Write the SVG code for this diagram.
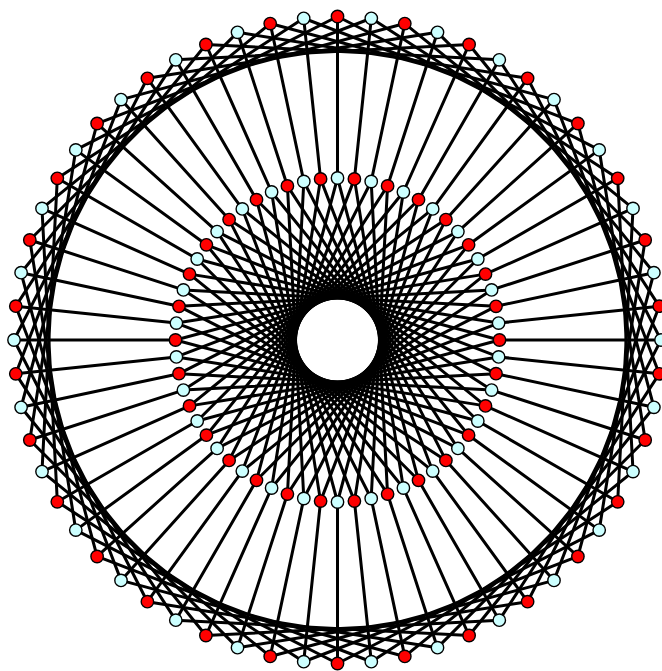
<svg xmlns="http://www.w3.org/2000/svg" xmlns:xlink="http://www.w3.org/1999/xlink" width="662" height="671" viewBox="0 0 662 671">
<style>
.e{stroke:#000;stroke-width:3;fill:none;stroke-linecap:round}
.r{fill:#ff0000;stroke:#000;stroke-width:1.4}
.c{fill:#ccffff;stroke:#000;stroke-width:1.4}
circle{r:6.2px}
</style>
<defs>
<line id="sp" class="e" x1="337.5" y1="16.5" x2="337.5" y2="178"/>
<line id="oc" class="e" x1="337.5" y1="16.5" x2="599.217" y2="149.852"/>
<line id="ic" class="e" x1="337.5" y1="178" x2="418.5" y2="480.296"/>
</defs>
<rect width="662" height="671" fill="#fff"/>
<g id="connectors">
<use xlink:href="#sp"/><use xlink:href="#sp" transform="rotate(6 337.5 340)"/><use xlink:href="#sp" transform="rotate(12 337.5 340)"/><use xlink:href="#sp" transform="rotate(18 337.5 340)"/><use xlink:href="#sp" transform="rotate(24 337.5 340)"/><use xlink:href="#sp" transform="rotate(30 337.5 340)"/><use xlink:href="#sp" transform="rotate(36 337.5 340)"/><use xlink:href="#sp" transform="rotate(42 337.5 340)"/><use xlink:href="#sp" transform="rotate(48 337.5 340)"/><use xlink:href="#sp" transform="rotate(54 337.5 340)"/>
<use xlink:href="#sp" transform="rotate(60 337.5 340)"/><use xlink:href="#sp" transform="rotate(66 337.5 340)"/><use xlink:href="#sp" transform="rotate(72 337.5 340)"/><use xlink:href="#sp" transform="rotate(78 337.5 340)"/><use xlink:href="#sp" transform="rotate(84 337.5 340)"/><use xlink:href="#sp" transform="rotate(90 337.5 340)"/><use xlink:href="#sp" transform="rotate(96 337.5 340)"/><use xlink:href="#sp" transform="rotate(102 337.5 340)"/><use xlink:href="#sp" transform="rotate(108 337.5 340)"/><use xlink:href="#sp" transform="rotate(114 337.5 340)"/>
<use xlink:href="#sp" transform="rotate(120 337.5 340)"/><use xlink:href="#sp" transform="rotate(126 337.5 340)"/><use xlink:href="#sp" transform="rotate(132 337.5 340)"/><use xlink:href="#sp" transform="rotate(138 337.5 340)"/><use xlink:href="#sp" transform="rotate(144 337.5 340)"/><use xlink:href="#sp" transform="rotate(150 337.5 340)"/><use xlink:href="#sp" transform="rotate(156 337.5 340)"/><use xlink:href="#sp" transform="rotate(162 337.5 340)"/><use xlink:href="#sp" transform="rotate(168 337.5 340)"/><use xlink:href="#sp" transform="rotate(174 337.5 340)"/>
<use xlink:href="#sp" transform="rotate(180 337.5 340)"/><use xlink:href="#sp" transform="rotate(186 337.5 340)"/><use xlink:href="#sp" transform="rotate(192 337.5 340)"/><use xlink:href="#sp" transform="rotate(198 337.5 340)"/><use xlink:href="#sp" transform="rotate(204 337.5 340)"/><use xlink:href="#sp" transform="rotate(210 337.5 340)"/><use xlink:href="#sp" transform="rotate(216 337.5 340)"/><use xlink:href="#sp" transform="rotate(222 337.5 340)"/><use xlink:href="#sp" transform="rotate(228 337.5 340)"/><use xlink:href="#sp" transform="rotate(234 337.5 340)"/>
<use xlink:href="#sp" transform="rotate(240 337.5 340)"/><use xlink:href="#sp" transform="rotate(246 337.5 340)"/><use xlink:href="#sp" transform="rotate(252 337.5 340)"/><use xlink:href="#sp" transform="rotate(258 337.5 340)"/><use xlink:href="#sp" transform="rotate(264 337.5 340)"/><use xlink:href="#sp" transform="rotate(270 337.5 340)"/><use xlink:href="#sp" transform="rotate(276 337.5 340)"/><use xlink:href="#sp" transform="rotate(282 337.5 340)"/><use xlink:href="#sp" transform="rotate(288 337.5 340)"/><use xlink:href="#sp" transform="rotate(294 337.5 340)"/>
<use xlink:href="#sp" transform="rotate(300 337.5 340)"/><use xlink:href="#sp" transform="rotate(306 337.5 340)"/><use xlink:href="#sp" transform="rotate(312 337.5 340)"/><use xlink:href="#sp" transform="rotate(318 337.5 340)"/><use xlink:href="#sp" transform="rotate(324 337.5 340)"/><use xlink:href="#sp" transform="rotate(330 337.5 340)"/><use xlink:href="#sp" transform="rotate(336 337.5 340)"/><use xlink:href="#sp" transform="rotate(342 337.5 340)"/><use xlink:href="#sp" transform="rotate(348 337.5 340)"/><use xlink:href="#sp" transform="rotate(354 337.5 340)"/>
<use xlink:href="#oc"/><use xlink:href="#oc" transform="rotate(6 337.5 340)"/><use xlink:href="#oc" transform="rotate(12 337.5 340)"/><use xlink:href="#oc" transform="rotate(18 337.5 340)"/><use xlink:href="#oc" transform="rotate(24 337.5 340)"/><use xlink:href="#oc" transform="rotate(30 337.5 340)"/><use xlink:href="#oc" transform="rotate(36 337.5 340)"/><use xlink:href="#oc" transform="rotate(42 337.5 340)"/><use xlink:href="#oc" transform="rotate(48 337.5 340)"/><use xlink:href="#oc" transform="rotate(54 337.5 340)"/>
<use xlink:href="#oc" transform="rotate(60 337.5 340)"/><use xlink:href="#oc" transform="rotate(66 337.5 340)"/><use xlink:href="#oc" transform="rotate(72 337.5 340)"/><use xlink:href="#oc" transform="rotate(78 337.5 340)"/><use xlink:href="#oc" transform="rotate(84 337.5 340)"/><use xlink:href="#oc" transform="rotate(90 337.5 340)"/><use xlink:href="#oc" transform="rotate(96 337.5 340)"/><use xlink:href="#oc" transform="rotate(102 337.5 340)"/><use xlink:href="#oc" transform="rotate(108 337.5 340)"/><use xlink:href="#oc" transform="rotate(114 337.5 340)"/>
<use xlink:href="#oc" transform="rotate(120 337.5 340)"/><use xlink:href="#oc" transform="rotate(126 337.5 340)"/><use xlink:href="#oc" transform="rotate(132 337.5 340)"/><use xlink:href="#oc" transform="rotate(138 337.5 340)"/><use xlink:href="#oc" transform="rotate(144 337.5 340)"/><use xlink:href="#oc" transform="rotate(150 337.5 340)"/><use xlink:href="#oc" transform="rotate(156 337.5 340)"/><use xlink:href="#oc" transform="rotate(162 337.5 340)"/><use xlink:href="#oc" transform="rotate(168 337.5 340)"/><use xlink:href="#oc" transform="rotate(174 337.5 340)"/>
<use xlink:href="#oc" transform="rotate(180 337.5 340)"/><use xlink:href="#oc" transform="rotate(186 337.5 340)"/><use xlink:href="#oc" transform="rotate(192 337.5 340)"/><use xlink:href="#oc" transform="rotate(198 337.5 340)"/><use xlink:href="#oc" transform="rotate(204 337.5 340)"/><use xlink:href="#oc" transform="rotate(210 337.5 340)"/><use xlink:href="#oc" transform="rotate(216 337.5 340)"/><use xlink:href="#oc" transform="rotate(222 337.5 340)"/><use xlink:href="#oc" transform="rotate(228 337.5 340)"/><use xlink:href="#oc" transform="rotate(234 337.5 340)"/>
<use xlink:href="#oc" transform="rotate(240 337.5 340)"/><use xlink:href="#oc" transform="rotate(246 337.5 340)"/><use xlink:href="#oc" transform="rotate(252 337.5 340)"/><use xlink:href="#oc" transform="rotate(258 337.5 340)"/><use xlink:href="#oc" transform="rotate(264 337.5 340)"/><use xlink:href="#oc" transform="rotate(270 337.5 340)"/><use xlink:href="#oc" transform="rotate(276 337.5 340)"/><use xlink:href="#oc" transform="rotate(282 337.5 340)"/><use xlink:href="#oc" transform="rotate(288 337.5 340)"/><use xlink:href="#oc" transform="rotate(294 337.5 340)"/>
<use xlink:href="#oc" transform="rotate(300 337.5 340)"/><use xlink:href="#oc" transform="rotate(306 337.5 340)"/><use xlink:href="#oc" transform="rotate(312 337.5 340)"/><use xlink:href="#oc" transform="rotate(318 337.5 340)"/><use xlink:href="#oc" transform="rotate(324 337.5 340)"/><use xlink:href="#oc" transform="rotate(330 337.5 340)"/><use xlink:href="#oc" transform="rotate(336 337.5 340)"/><use xlink:href="#oc" transform="rotate(342 337.5 340)"/><use xlink:href="#oc" transform="rotate(348 337.5 340)"/><use xlink:href="#oc" transform="rotate(354 337.5 340)"/>
<use xlink:href="#ic"/><use xlink:href="#ic" transform="rotate(6 337.5 340)"/><use xlink:href="#ic" transform="rotate(12 337.5 340)"/><use xlink:href="#ic" transform="rotate(18 337.5 340)"/><use xlink:href="#ic" transform="rotate(24 337.5 340)"/><use xlink:href="#ic" transform="rotate(30 337.5 340)"/><use xlink:href="#ic" transform="rotate(36 337.5 340)"/><use xlink:href="#ic" transform="rotate(42 337.5 340)"/><use xlink:href="#ic" transform="rotate(48 337.5 340)"/><use xlink:href="#ic" transform="rotate(54 337.5 340)"/>
<use xlink:href="#ic" transform="rotate(60 337.5 340)"/><use xlink:href="#ic" transform="rotate(66 337.5 340)"/><use xlink:href="#ic" transform="rotate(72 337.5 340)"/><use xlink:href="#ic" transform="rotate(78 337.5 340)"/><use xlink:href="#ic" transform="rotate(84 337.5 340)"/><use xlink:href="#ic" transform="rotate(90 337.5 340)"/><use xlink:href="#ic" transform="rotate(96 337.5 340)"/><use xlink:href="#ic" transform="rotate(102 337.5 340)"/><use xlink:href="#ic" transform="rotate(108 337.5 340)"/><use xlink:href="#ic" transform="rotate(114 337.5 340)"/>
<use xlink:href="#ic" transform="rotate(120 337.5 340)"/><use xlink:href="#ic" transform="rotate(126 337.5 340)"/><use xlink:href="#ic" transform="rotate(132 337.5 340)"/><use xlink:href="#ic" transform="rotate(138 337.5 340)"/><use xlink:href="#ic" transform="rotate(144 337.5 340)"/><use xlink:href="#ic" transform="rotate(150 337.5 340)"/><use xlink:href="#ic" transform="rotate(156 337.5 340)"/><use xlink:href="#ic" transform="rotate(162 337.5 340)"/><use xlink:href="#ic" transform="rotate(168 337.5 340)"/><use xlink:href="#ic" transform="rotate(174 337.5 340)"/>
<use xlink:href="#ic" transform="rotate(180 337.5 340)"/><use xlink:href="#ic" transform="rotate(186 337.5 340)"/><use xlink:href="#ic" transform="rotate(192 337.5 340)"/><use xlink:href="#ic" transform="rotate(198 337.5 340)"/><use xlink:href="#ic" transform="rotate(204 337.5 340)"/><use xlink:href="#ic" transform="rotate(210 337.5 340)"/><use xlink:href="#ic" transform="rotate(216 337.5 340)"/><use xlink:href="#ic" transform="rotate(222 337.5 340)"/><use xlink:href="#ic" transform="rotate(228 337.5 340)"/><use xlink:href="#ic" transform="rotate(234 337.5 340)"/>
<use xlink:href="#ic" transform="rotate(240 337.5 340)"/><use xlink:href="#ic" transform="rotate(246 337.5 340)"/><use xlink:href="#ic" transform="rotate(252 337.5 340)"/><use xlink:href="#ic" transform="rotate(258 337.5 340)"/><use xlink:href="#ic" transform="rotate(264 337.5 340)"/><use xlink:href="#ic" transform="rotate(270 337.5 340)"/><use xlink:href="#ic" transform="rotate(276 337.5 340)"/><use xlink:href="#ic" transform="rotate(282 337.5 340)"/><use xlink:href="#ic" transform="rotate(288 337.5 340)"/><use xlink:href="#ic" transform="rotate(294 337.5 340)"/>
<use xlink:href="#ic" transform="rotate(300 337.5 340)"/><use xlink:href="#ic" transform="rotate(306 337.5 340)"/><use xlink:href="#ic" transform="rotate(312 337.5 340)"/><use xlink:href="#ic" transform="rotate(318 337.5 340)"/><use xlink:href="#ic" transform="rotate(324 337.5 340)"/><use xlink:href="#ic" transform="rotate(330 337.5 340)"/><use xlink:href="#ic" transform="rotate(336 337.5 340)"/><use xlink:href="#ic" transform="rotate(342 337.5 340)"/><use xlink:href="#ic" transform="rotate(348 337.5 340)"/><use xlink:href="#ic" transform="rotate(354 337.5 340)"/>
</g>
<g id="outer-nodes">
<g id="o0"><circle class="r" cx="337.5" cy="16.5" r="6.2"/></g>
<g id="o1"><circle class="c" cx="371.3" cy="18.3" r="6.2"/></g>
<g id="o2"><circle class="r" cx="404.8" cy="23.6" r="6.2"/></g>
<g id="o3"><circle class="c" cx="437.5" cy="32.3" r="6.2"/></g>
<g id="o4"><circle class="r" cx="469.1" cy="44.5" r="6.2"/></g>
<g id="o5"><circle class="c" cx="499.3" cy="59.8" r="6.2"/></g>
<g id="o6"><circle class="r" cx="527.6" cy="78.3" r="6.2"/></g>
<g id="o7"><circle class="c" cx="554.0" cy="99.6" r="6.2"/></g>
<g id="o8"><circle class="r" cx="577.9" cy="123.5" r="6.2"/></g>
<g id="o9"><circle class="c" cx="599.2" cy="149.9" r="6.2"/></g>
<g id="o10"><circle class="r" cx="617.7" cy="178.3" r="6.2"/></g>
<g id="o11"><circle class="c" cx="633.0" cy="208.4" r="6.2"/></g>
<g id="o12"><circle class="r" cx="645.2" cy="240.0" r="6.2"/></g>
<g id="o13"><circle class="c" cx="653.9" cy="272.7" r="6.2"/></g>
<g id="o14"><circle class="r" cx="659.2" cy="306.2" r="6.2"/></g>
<g id="o15"><circle class="c" cx="661.0" cy="340.0" r="6.2"/></g>
<g id="o16"><circle class="r" cx="659.2" cy="373.8" r="6.2"/></g>
<g id="o17"><circle class="c" cx="653.9" cy="407.3" r="6.2"/></g>
<g id="o18"><circle class="r" cx="645.2" cy="440.0" r="6.2"/></g>
<g id="o19"><circle class="c" cx="633.0" cy="471.6" r="6.2"/></g>
<g id="o20"><circle class="r" cx="617.7" cy="501.8" r="6.2"/></g>
<g id="o21"><circle class="c" cx="599.2" cy="530.1" r="6.2"/></g>
<g id="o22"><circle class="r" cx="577.9" cy="556.5" r="6.2"/></g>
<g id="o23"><circle class="c" cx="554.0" cy="580.4" r="6.2"/></g>
<g id="o24"><circle class="r" cx="527.6" cy="601.7" r="6.2"/></g>
<g id="o25"><circle class="c" cx="499.3" cy="620.2" r="6.2"/></g>
<g id="o26"><circle class="r" cx="469.1" cy="635.5" r="6.2"/></g>
<g id="o27"><circle class="c" cx="437.5" cy="647.7" r="6.2"/></g>
<g id="o28"><circle class="r" cx="404.8" cy="656.4" r="6.2"/></g>
<g id="o29"><circle class="c" cx="371.3" cy="661.7" r="6.2"/></g>
<g id="o30"><circle class="r" cx="337.5" cy="663.5" r="6.2"/></g>
<g id="o31"><circle class="c" cx="303.7" cy="661.7" r="6.2"/></g>
<g id="o32"><circle class="r" cx="270.2" cy="656.4" r="6.2"/></g>
<g id="o33"><circle class="c" cx="237.5" cy="647.7" r="6.2"/></g>
<g id="o34"><circle class="r" cx="205.9" cy="635.5" r="6.2"/></g>
<g id="o35"><circle class="c" cx="175.8" cy="620.2" r="6.2"/></g>
<g id="o36"><circle class="r" cx="147.4" cy="601.7" r="6.2"/></g>
<g id="o37"><circle class="c" cx="121.0" cy="580.4" r="6.2"/></g>
<g id="o38"><circle class="r" cx="97.1" cy="556.5" r="6.2"/></g>
<g id="o39"><circle class="c" cx="75.8" cy="530.1" r="6.2"/></g>
<g id="o40"><circle class="r" cx="57.3" cy="501.8" r="6.2"/></g>
<g id="o41"><circle class="c" cx="42.0" cy="471.6" r="6.2"/></g>
<g id="o42"><circle class="r" cx="29.8" cy="440.0" r="6.2"/></g>
<g id="o43"><circle class="c" cx="21.1" cy="407.3" r="6.2"/></g>
<g id="o44"><circle class="r" cx="15.8" cy="373.8" r="6.2"/></g>
<g id="o45"><circle class="c" cx="14.0" cy="340.0" r="6.2"/></g>
<g id="o46"><circle class="r" cx="15.8" cy="306.2" r="6.2"/></g>
<g id="o47"><circle class="c" cx="21.1" cy="272.7" r="6.2"/></g>
<g id="o48"><circle class="r" cx="29.8" cy="240.0" r="6.2"/></g>
<g id="o49"><circle class="c" cx="42.0" cy="208.4" r="6.2"/></g>
<g id="o50"><circle class="r" cx="57.3" cy="178.3" r="6.2"/></g>
<g id="o51"><circle class="c" cx="75.8" cy="149.9" r="6.2"/></g>
<g id="o52"><circle class="r" cx="97.1" cy="123.5" r="6.2"/></g>
<g id="o53"><circle class="c" cx="121.0" cy="99.6" r="6.2"/></g>
<g id="o54"><circle class="r" cx="147.4" cy="78.3" r="6.2"/></g>
<g id="o55"><circle class="c" cx="175.8" cy="59.8" r="6.2"/></g>
<g id="o56"><circle class="r" cx="205.9" cy="44.5" r="6.2"/></g>
<g id="o57"><circle class="c" cx="237.5" cy="32.3" r="6.2"/></g>
<g id="o58"><circle class="r" cx="270.2" cy="23.6" r="6.2"/></g>
<g id="o59"><circle class="c" cx="303.7" cy="18.3" r="6.2"/></g>
</g>
<g id="inner-nodes">
<g id="i0"><circle class="c" cx="337.5" cy="178.0" r="6.2"/></g>
<g id="i1"><circle class="r" cx="354.4" cy="178.9" r="6.2"/></g>
<g id="i2"><circle class="c" cx="371.2" cy="181.5" r="6.2"/></g>
<g id="i3"><circle class="r" cx="387.6" cy="185.9" r="6.2"/></g>
<g id="i4"><circle class="c" cx="403.4" cy="192.0" r="6.2"/></g>
<g id="i5"><circle class="r" cx="418.5" cy="199.7" r="6.2"/></g>
<g id="i6"><circle class="c" cx="432.7" cy="208.9" r="6.2"/></g>
<g id="i7"><circle class="r" cx="445.9" cy="219.6" r="6.2"/></g>
<g id="i8"><circle class="c" cx="457.9" cy="231.6" r="6.2"/></g>
<g id="i9"><circle class="r" cx="468.6" cy="244.8" r="6.2"/></g>
<g id="i10"><circle class="c" cx="477.8" cy="259.0" r="6.2"/></g>
<g id="i11"><circle class="r" cx="485.5" cy="274.1" r="6.2"/></g>
<g id="i12"><circle class="c" cx="491.6" cy="289.9" r="6.2"/></g>
<g id="i13"><circle class="r" cx="496.0" cy="306.3" r="6.2"/></g>
<g id="i14"><circle class="c" cx="498.6" cy="323.1" r="6.2"/></g>
<g id="i15"><circle class="r" cx="499.5" cy="340.0" r="6.2"/></g>
<g id="i16"><circle class="c" cx="498.6" cy="356.9" r="6.2"/></g>
<g id="i17"><circle class="r" cx="496.0" cy="373.7" r="6.2"/></g>
<g id="i18"><circle class="c" cx="491.6" cy="390.1" r="6.2"/></g>
<g id="i19"><circle class="r" cx="485.5" cy="405.9" r="6.2"/></g>
<g id="i20"><circle class="c" cx="477.8" cy="421.0" r="6.2"/></g>
<g id="i21"><circle class="r" cx="468.6" cy="435.2" r="6.2"/></g>
<g id="i22"><circle class="c" cx="457.9" cy="448.4" r="6.2"/></g>
<g id="i23"><circle class="r" cx="445.9" cy="460.4" r="6.2"/></g>
<g id="i24"><circle class="c" cx="432.7" cy="471.1" r="6.2"/></g>
<g id="i25"><circle class="r" cx="418.5" cy="480.3" r="6.2"/></g>
<g id="i26"><circle class="c" cx="403.4" cy="488.0" r="6.2"/></g>
<g id="i27"><circle class="r" cx="387.6" cy="494.1" r="6.2"/></g>
<g id="i28"><circle class="c" cx="371.2" cy="498.5" r="6.2"/></g>
<g id="i29"><circle class="r" cx="354.4" cy="501.1" r="6.2"/></g>
<g id="i30"><circle class="c" cx="337.5" cy="502.0" r="6.2"/></g>
<g id="i31"><circle class="r" cx="320.6" cy="501.1" r="6.2"/></g>
<g id="i32"><circle class="c" cx="303.8" cy="498.5" r="6.2"/></g>
<g id="i33"><circle class="r" cx="287.4" cy="494.1" r="6.2"/></g>
<g id="i34"><circle class="c" cx="271.6" cy="488.0" r="6.2"/></g>
<g id="i35"><circle class="r" cx="256.5" cy="480.3" r="6.2"/></g>
<g id="i36"><circle class="c" cx="242.3" cy="471.1" r="6.2"/></g>
<g id="i37"><circle class="r" cx="229.1" cy="460.4" r="6.2"/></g>
<g id="i38"><circle class="c" cx="217.1" cy="448.4" r="6.2"/></g>
<g id="i39"><circle class="r" cx="206.4" cy="435.2" r="6.2"/></g>
<g id="i40"><circle class="c" cx="197.2" cy="421.0" r="6.2"/></g>
<g id="i41"><circle class="r" cx="189.5" cy="405.9" r="6.2"/></g>
<g id="i42"><circle class="c" cx="183.4" cy="390.1" r="6.2"/></g>
<g id="i43"><circle class="r" cx="179.0" cy="373.7" r="6.2"/></g>
<g id="i44"><circle class="c" cx="176.4" cy="356.9" r="6.2"/></g>
<g id="i45"><circle class="r" cx="175.5" cy="340.0" r="6.2"/></g>
<g id="i46"><circle class="c" cx="176.4" cy="323.1" r="6.2"/></g>
<g id="i47"><circle class="r" cx="179.0" cy="306.3" r="6.2"/></g>
<g id="i48"><circle class="c" cx="183.4" cy="289.9" r="6.2"/></g>
<g id="i49"><circle class="r" cx="189.5" cy="274.1" r="6.2"/></g>
<g id="i50"><circle class="c" cx="197.2" cy="259.0" r="6.2"/></g>
<g id="i51"><circle class="r" cx="206.4" cy="244.8" r="6.2"/></g>
<g id="i52"><circle class="c" cx="217.1" cy="231.6" r="6.2"/></g>
<g id="i53"><circle class="r" cx="229.1" cy="219.6" r="6.2"/></g>
<g id="i54"><circle class="c" cx="242.3" cy="208.9" r="6.2"/></g>
<g id="i55"><circle class="r" cx="256.5" cy="199.7" r="6.2"/></g>
<g id="i56"><circle class="c" cx="271.6" cy="192.0" r="6.2"/></g>
<g id="i57"><circle class="r" cx="287.4" cy="185.9" r="6.2"/></g>
<g id="i58"><circle class="c" cx="303.8" cy="181.5" r="6.2"/></g>
<g id="i59"><circle class="r" cx="320.6" cy="178.9" r="6.2"/></g>
</g>
</svg>
